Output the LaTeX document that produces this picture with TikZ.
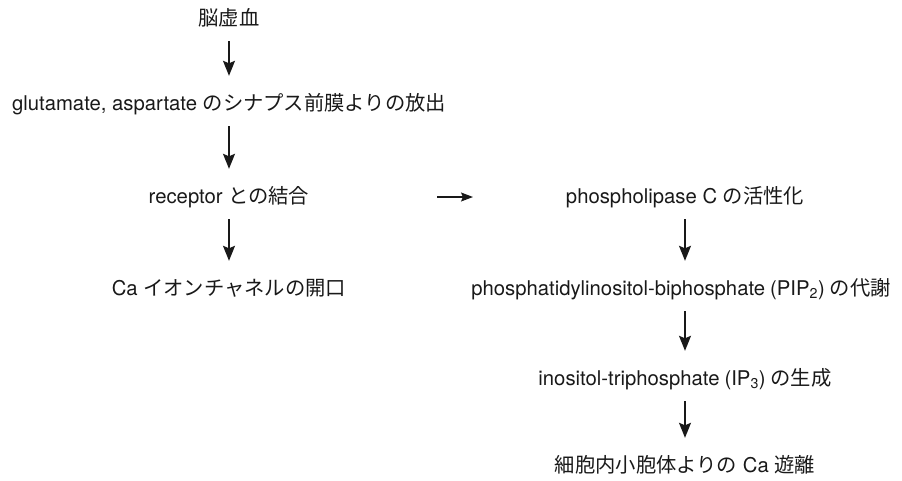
\documentclass[tikz,border=0pt]{standalone}
\usepackage{fontspec}
\setmainfont{TeX Gyre Heros}
\newfontfamily\jp{Noto Sans CJK JP}
\usetikzlibrary{arrows.meta,calc}
\tikzset{
  lbl/.style={anchor=base,inner sep=0pt,text height=34pt,text depth=16pt,
    font=\fontsize{20.3}{24}\selectfont,text=black!90},
  varr/.style={draw=black!90,line width=1.4pt,-{Stealth[length=15pt,width=12pt,inset=2.5pt]}},
  harr/.style={draw=black!90,line width=1.2pt,-{Stealth[length=12pt,width=9pt,inset=2pt]}}
}
\newcommand{\lp}{\hspace{5pt}(}
\newcommand{\rp}{)\hspace{5pt}}
\begin{document}
\begin{tikzpicture}[x=1pt,y=-1pt]
\useasboundingbox (0,0) rectangle (902,480);
\node[lbl] (n1) at (229,25) {{\jp 脳虚血}};
\node[lbl] (n2) at (229,110) {glutamate, aspartate {\jp のシナプス前膜よりの放出}};
\node[lbl] (n3) at (229,203) {receptor {\jp との結合}};
\node[lbl] (n4) at (229,295) {Ca {\jp イオンチャネルの開口}};
\node[lbl] (m1) at (685,203) {phospholipase C {\jp の活性化}};
\node[lbl] (m2) at (681,295) {phosphatidylinositol-biphosphate\lp PIP\textsubscript{2}\rp{\jp の代謝}};
\node[lbl] (m3) at (685,385) {inositol-triphosphate\lp IP\textsubscript{3}\rp{\jp の生成}};
\node[lbl] (m4) at (685,472) {{\jp 細胞内小胞体よりの} Ca {\jp 遊離}};
\draw[varr] (n1.south) -- (n1.south |- n2.north);
\draw[varr] (n2.south) -- (n2.south |- n3.north);
\draw[varr] (n3.south) -- (n3.south |- n4.north);
\draw[varr] (m1.south) -- (m1.south |- m2.north);
\draw[varr] (m1.south |- m2.south) -- (m1.south |- m3.north);
\draw[varr] (m3.south) -- (m3.south |- m4.north);
\coordinate (hs) at ($(n3.base)+(208,-6)$);
\coordinate (he) at ($(m1.base)+(-212,-6)$);
\draw[harr] (hs) -- (he);
\end{tikzpicture}
\end{document}
